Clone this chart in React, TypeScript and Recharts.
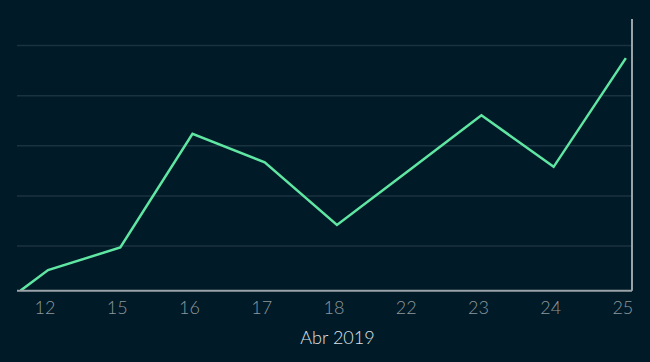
import React from 'react';
import { LineChart, Line, XAxis, YAxis, CartesianGrid } from 'recharts';

const positions = [-0.38, 0, 1, 2, 3, 4, 5, 6, 7, 8];
const values = [1.1, 5.2, 9.7, 32.4, 26.7, 14.2, 25.1, 36.1, 25.8, 47.5];
const tickLabels = ['12', '15', '16', '17', '18', '22', '23', '24', '25'];
const tickPositions = [0, 1, 2, 3, 4, 5, 6, 7, 8];
const yTicks = [10, 20, 30, 40, 50];

const data = positions.map((x, i) => ({ x, v: values[i] }));

const NoTick = () => <g />;

export default function App() {
  return (
    <div style={{ position: 'absolute', left: 0, top: 0, width: 650, height: 362, background: '#011a27' }}>
      <LineChart width={650} height={362} data={data} margin={{ top: 19, right: 17, bottom: 18, left: 17 }}>
        <CartesianGrid vertical={false} stroke="#1b3340" strokeWidth={1.5} syncWithTicks />
        <XAxis
          dataKey="x"
          type="number"
          domain={[-0.43, 8.085]}
          ticks={tickPositions}
          tickFormatter={(t: number) => tickLabels[t] ?? ''}
          interval={0}
          allowDataOverflow
          height={53.3}
          axisLine={{ stroke: '#9aa3a8', strokeWidth: 2 }}
          tickLine={false}
          tickMargin={5}
          tick={{ fill: '#8c979c', fontSize: 18, fontFamily: 'Lato', fontWeight: 300, dx: -3 }}
          label={{ value: 'Abr 2019', position: 'insideBottom', offset: 0, dx: 13, fill: '#dde3e6', fontSize: 18, fontFamily: 'Lato', fontWeight: 300 }}
        />
        <YAxis
          orientation="right"
          width={1}
          type="number"
          domain={[1.08, 55.3]}
          ticks={yTicks}
          interval={0}
          allowDataOverflow
          tick={NoTick}
          tickLine={false}
          axisLine={{ stroke: '#9aa3a8', strokeWidth: 2 }}
        />
        <Line type="linear" dataKey="v" stroke="#5fe6a2" strokeWidth={2.5} dot={false} isAnimationActive={false} />
      </LineChart>
    </div>
  );
}
